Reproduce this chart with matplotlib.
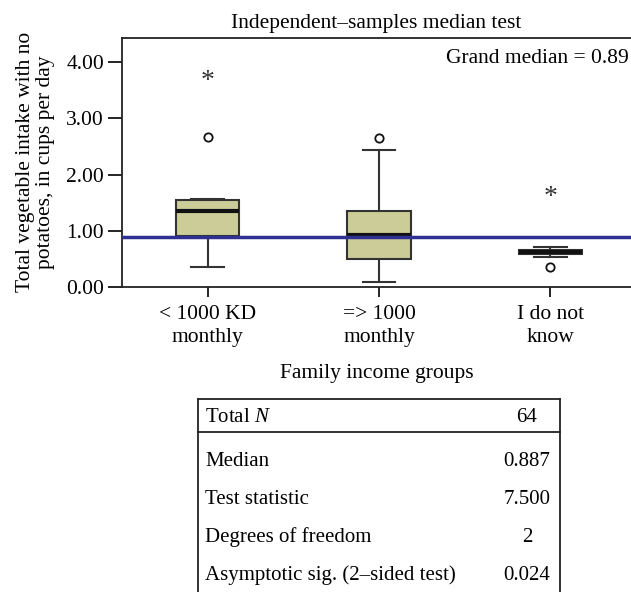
import matplotlib.pyplot as plt
from matplotlib.lines import Line2D

plt.rcParams['font.family'] = ['Liberation Serif', 'DejaVu Serif']
plt.rcParams['mathtext.fontset'] = 'custom'
plt.rcParams['mathtext.it'] = 'Liberation Serif:italic'
plt.rcParams['mathtext.rm'] = 'Liberation Serif'

# box statistics
groups = ['< 1000 KD\nmonthly', '=> 1000\nmonthly', 'I do not\nknow']
q1 = [0.91, 0.49, 0.59]
med = [1.36, 0.92, 0.625]
q3 = [1.54, 1.36, 0.665]
whislo = [0.36, 0.09, 0.53]
whishi = [1.56, 2.43, 0.715]
# outliers: circles (mild) and asterisks (extreme)
mild_x = [1, 2, 3]
mild_y = [2.67, 2.65, 0.36]
extreme_x = [1, 3]
extreme_y = [3.77, 1.71]
grand_median = 0.887

table_labels = ['Total $\\mathit{N}$', 'Median', 'Test statistic',
                'Degrees of freedom', 'Asymptotic sig. (2\u2013sided test)']
table_values = ['64', '0.887', '7.500', '2', '0.024']

fs = 15.5
W, H = 631, 592
fig = plt.figure(figsize=(W / 100, H / 100), dpi=100)
ax = fig.add_axes([122 / W, 1 - 287 / H, 1 - 122 / W, (287 - 37.5) / H])

stats = []
for i in range(len(groups)):
    stats.append(dict(med=med[i], q1=q1[i], q3=q3[i],
                      whislo=whislo[i], whishi=whishi[i], fliers=[]))

ax.bxp(stats, positions=[1, 2, 3], widths=0.37, capwidths=0.19,
       patch_artist=True, showfliers=False,
       boxprops=dict(facecolor='#cccc99', edgecolor='#333333', linewidth=1.5),
       medianprops=dict(color='#111111', linewidth=3),
       whiskerprops=dict(color='#333333', linewidth=1.5),
       capprops=dict(color='#333333', linewidth=1.5))

ax.plot(mild_x, mild_y, 'o', ms=6, mfc='white', mec='#111111', mew=1.3)
for x, y in zip(extreme_x, extreme_y):
    ax.annotate('*', (x, y), xytext=(0, -4.5), textcoords='offset points',
                ha='center', va='center', fontsize=20, color='#333333')

ax.axhline(grand_median, color='#2e3192', lw=2.5, zorder=5)

ax.set_xlim(0.5, 3.47)
ax.set_ylim(0, 4.44)
ax.set_yticks([0, 1, 2, 3, 4])
ax.set_yticklabels(['%.2f' % v for v in [0, 1, 2, 3, 4]])
ax.set_xticks([1, 2, 3])
ax.set_xticklabels(groups, linespacing=1.3)
ax.tick_params(axis='y', length=10, width=1.2, labelsize=fs, pad=3)
ax.tick_params(axis='x', length=7, width=1.2, labelsize=fs, pad=6)
for s in ['left', 'bottom', 'top']:
    ax.spines[s].set_linewidth(1.3)
    ax.spines[s].set_color('#222222')
ax.spines['right'].set_visible(False)

ax.text(0.995, 0.955, 'Grand median = %.2f' % grand_median, transform=ax.transAxes,
        ha='right', va='top', fontsize=fs)
ax.set_title('Independent\u2013samples median test', fontsize=fs, pad=7)
ax.set_xlabel('Family income groups', fontsize=fs, labelpad=12)
ax.set_ylabel('Total vegetable intake with no\npotatoes, in cups per day',
              fontsize=fs, linespacing=1.1, labelpad=8)

# summary table in pixel coordinates
tx0, tx1, ty0 = 198, 560, 399
row_y = [417, 462, 500, 537, 575]
for lab, val, y in zip(table_labels, table_values, row_y):
    fig.text(205 / W, 1 - y / H, lab, ha='left', va='center', fontsize=15)
    fig.text(527 / W, 1 - y / H, val, ha='center', va='center', fontsize=15)
lines = [([tx0, tx1], [ty0, ty0]), ([tx0, tx1], [432, 432]),
         ([tx0, tx0], [ty0, H + 5]), ([tx1, tx1], [ty0, H + 5])]
for xs, ys in lines:
    fig.add_artist(Line2D([x / W for x in xs], [1 - y / H for y in ys],
                          color='#222222', lw=1.3))

fig.savefig('out.png', dpi=100)
